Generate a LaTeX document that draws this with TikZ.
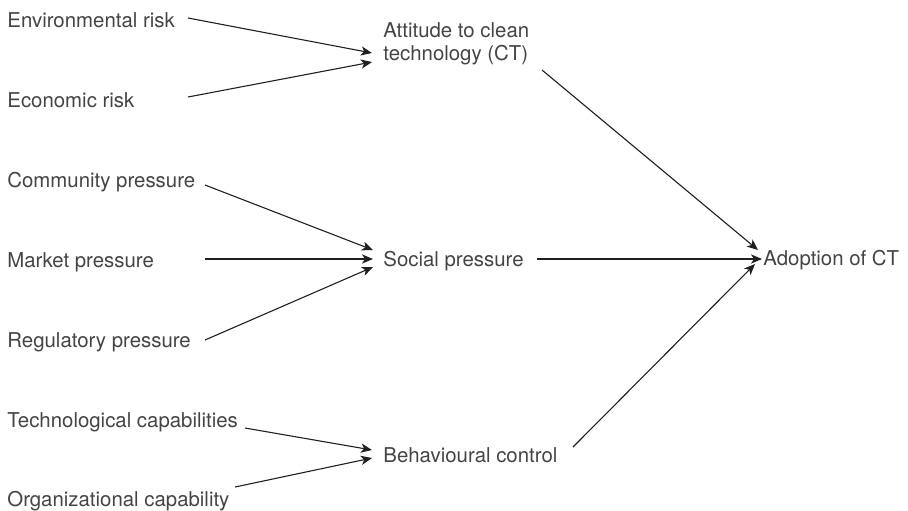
\documentclass[tikz,border=0pt]{standalone}
\usepackage{fontspec}
\setmainfont{TeX Gyre Heros}
\usetikzlibrary{arrows.meta}
\definecolor{ink}{HTML}{231F20}
\definecolor{txt}{HTML}{444444}
\begin{document}
\begin{tikzpicture}[x=0.5pt, y=-0.5pt,
  factor/.style = {anchor=base west, inner sep=0pt, align=left, text=txt,
                   font=\fontsize{10.2}{11.5}\selectfont},
  arr/.style = {-{Stealth[length=5.5pt, width=4.6pt, inset=1.5pt]}, line width=0.55pt, draw=ink}]
\useasboundingbox (0,0) rectangle (908,510);

\node[factor] (env)  at (7,27)  {Environmental risk};
\node[factor] (eco)  at (7,107) {Economic risk};
\node[factor] (com)  at (7,187) {Community pressure};
\node[factor] (mkt)  at (7,267) {Market pressure};
\node[factor] (reg)  at (7,347) {Regulatory pressure};
\node[factor] (tech) at (7,427) {Technological capabilities};
\node[factor] (org)  at (7,506) {Organizational capability};

\node[factor] (att)   at (383,60)  {Attitude to clean\\technology (CT)};
\node[factor] (soc)   at (383,266) {Social pressure};
\node[factor] (beh)   at (383,462) {Behavioural control};
\node[factor] (adopt) at (763,265) {Adoption of CT};

\draw[arr] ([shift={(181,-9)}]env.base west)  -- ([shift={(-11,-7)}]att.base west);
\draw[arr] ([shift={(181,-10)}]eco.base west) -- ([shift={(-11,2)}]att.base west);

\draw[arr] ([shift={(198,-2)}]com.base west) -- ([shift={(-10,-16)}]soc.base west);
\draw[arr] ([shift={(198,-8)}]mkt.base west) -- ([shift={(-10,-7)}]soc.base west);
\draw[arr] ([shift={(198,-7)}]reg.base west) -- ([shift={(-10,1)}]soc.base west);

\draw[arr] ([shift={(238,1)}]tech.base west)  -- ([shift={(-11,-12)}]beh.base west);
\draw[arr] ([shift={(228,-19)}]org.base west) -- ([shift={(-11,-4)}]beh.base west);

\draw[arr] ([shift={(159,10)}]att.base west)  -- ([shift={(-5,-15)}]adopt.base west);
\draw[arr] ([shift={(154,-7)}]soc.base west)  -- ([shift={(-1,-6)}]adopt.base west);
\draw[arr] ([shift={(190,-15)}]beh.base west) -- ([shift={(-8,-1)}]adopt.base west);

\end{tikzpicture}
\end{document}
